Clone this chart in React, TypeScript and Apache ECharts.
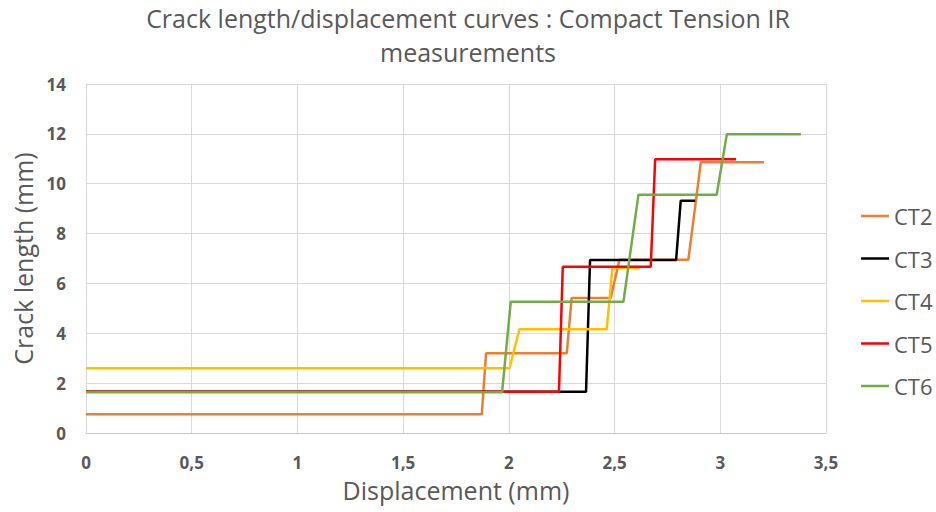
import React, { useEffect, useRef } from "react";
import * as echarts from "echarts";

const seriesNames = ["CT2", "CT3", "CT4", "CT5", "CT6"];
const seriesColors = ["#ED7D31", "#000000", "#FFC000", "#FF0000", "#70AD47"];

const ct2Disp = [0, 1.872, 1.892, 2.274, 2.297, 2.482, 2.523, 2.849, 2.908, 3.207];
const ct2Crack = [0.75, 0.75, 3.2, 3.2, 5.42, 5.42, 6.95, 6.95, 10.86, 10.86];

const ct3Disp = [0, 2.365, 2.384, 2.791, 2.813, 2.881];
const ct3Crack = [1.65, 1.65, 6.94, 6.94, 9.32, 9.32];

const ct4Disp = [0, 2.003, 2.05, 2.463, 2.49, 2.62];
const ct4Crack = [2.6, 2.6, 4.16, 4.16, 6.62, 6.62];

const ct5Disp = [0, 2.237, 2.255, 2.671, 2.692, 3.075];
const ct5Crack = [1.65, 1.65, 6.67, 6.67, 10.98, 10.98];

const ct6Disp = [0, 1.968, 2.009, 2.542, 2.613, 2.983, 3.031, 3.381];
const ct6Crack = [1.63, 1.63, 5.27, 5.27, 9.56, 9.56, 11.98, 11.98];

const allDisp = [ct2Disp, ct3Disp, ct4Disp, ct5Disp, ct6Disp];
const allCrack = [ct2Crack, ct3Crack, ct4Crack, ct5Crack, ct6Crack];

const titleText = "Crack length/displacement curves : Compact Tension IR\nmeasurements";
const xName = "Displacement (mm)";
const yName = "Crack length (mm)";

const FONT = "'Open Sans', sans-serif";
const GREY = "#595959";

export default function App() {
  const ref = useRef<HTMLDivElement>(null);
  useEffect(() => {
    if (!ref.current) return;
    const chart = echarts.init(ref.current, null, { renderer: "svg" });
    const series = seriesNames.map((name, i) => ({
      name,
      type: "line",
      data: allDisp[i].map((x, j) => [x, allCrack[i][j]]),
      symbol: "none",
      showSymbol: false,
      lineStyle: { color: seriesColors[i], width: 2.5 },
      itemStyle: { color: seriesColors[i] },
      z: 2 + i,
    }));
    chart.setOption({
      animation: false,
      backgroundColor: "#ffffff",
      title: {
        text: titleText,
        left: "center",
        top: 1,
        padding: 0,
        textStyle: {
          fontFamily: FONT,
          fontSize: 25,
          fontWeight: "normal",
          color: GREY,
          lineHeight: 34,
        },
      },
      legend: {
        orient: "vertical",
        left: 861,
        top: 205,
        padding: 0,
        icon: "rect",
        itemWidth: 28,
        itemHeight: 2.5,
        itemGap: 20.5,
        data: seriesNames,
        textStyle: { fontFamily: FONT, fontSize: 22, color: GREY, lineHeight: 20 },
      },
      grid: { left: 86, right: 110, top: 84, bottom: 79, containLabel: false },
      xAxis: {
        type: "value",
        min: 0,
        max: 3.5,
        interval: 0.5,
        name: xName,
        nameLocation: "middle",
        nameGap: 44,
        nameTextStyle: { fontFamily: FONT, fontSize: 25, color: GREY },
        axisLine: { show: true, lineStyle: { color: "#C8C8C8", width: 1 } },
        axisTick: { show: false },
        axisLabel: {
          margin: 21,
          fontFamily: FONT,
          fontSize: 17,
          fontWeight: "bold",
          color: GREY,
          formatter: (v: number) => String(v).replace(".", ","),
        },
        splitLine: { show: true, lineStyle: { color: "#D9D9D9", width: 1 } },
      },
      yAxis: {
        type: "value",
        min: 0,
        max: 14,
        interval: 2,
        name: yName,
        nameLocation: "middle",
        nameGap: 42,
        nameRotate: 90,
        nameTextStyle: { fontFamily: FONT, fontSize: 25, color: GREY },
        axisLine: { show: true, lineStyle: { color: "#D9D9D9", width: 1 } },
        axisTick: { show: false },
        axisLabel: {
          margin: 20,
          fontFamily: FONT,
          fontSize: 17,
          fontWeight: "bold",
          color: GREY,
        },
        splitLine: { show: true, lineStyle: { color: "#D9D9D9", width: 1 } },
      },
      series,
    });
    return () => chart.dispose();
  }, []);
  return <div ref={ref} style={{ width: 936, height: 512, position: "absolute", left: 0, top: 0 }} />;
}
